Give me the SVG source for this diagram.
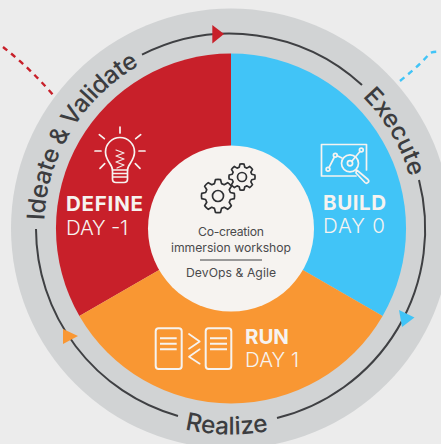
<svg xmlns="http://www.w3.org/2000/svg" xmlns:xlink="http://www.w3.org/1999/xlink" width="441" height="444" viewBox="0 0 441 444">
<style>
text{font-family:"Inter","Liberation Sans",sans-serif}
.ring{font-size:24.5px;fill:#3c3d40;font-weight:500}
.arc{fill:none;stroke:#3f4043;stroke-width:2}
.dash{fill:none;stroke-width:2.4;stroke-dasharray:5.5 5}
.ic{fill:none;stroke:#f6f3f0;stroke-width:1.7;stroke-linecap:round;stroke-linejoin:round}
.h{font-size:20.5px;font-weight:700;fill:#f6f3f0}
.d{font-size:20.5px;font-weight:300;fill:#f6f3f0}
.c{font-size:12.2px;fill:#4a4a4c;text-anchor:middle}
.g{fill:none;stroke:#2f3033;stroke-width:1.7;stroke-linejoin:round;vector-effect:non-scaling-stroke}
</style>
<defs>
<path id="gear" class="g" d="M75-21.5 98.8-15.6Q102 0 98.8 15.6L75 21.5 68.2 37.8 80.9 58.8Q72 72 58.8 80.9L37.8 68.2 21.5 75 15.6 98.8Q0 102-15.6 98.8L-21.5 75-37.8 68.2-58.8 80.9Q-72 72-80.9 58.8L-68.2 37.8-75 21.5-98.8 15.6Q-102 0-98.8-15.6L-75-21.5-68.2-37.8-80.9-58.8Q-72-72-58.8-80.9L-37.8-68.2-21.5-75-15.6-98.8Q0-102 15.6-98.8L21.5-75 37.8-68.2 58.8-80.9Q72-72 80.9-58.8L68.2-37.8Z"/>
<path id="pIdeate" d="M44 228.5A187 187 0 0 1 231 41.5"/>
<path id="pExec" d="M231 42.5A186 186 0 0 1 417 228.5"/>
<path id="pReal" d="M25 228.5A206 206 0 0 0 437 228.5"/>
</defs>
<rect width="441" height="444" fill="#ececec"/>
<g id="connectors">
<path class="dash" stroke="#c8202a" d="M3 47Q30 68 54 96"/>
<path class="dash" stroke="#41c4f7" d="M400 81Q420 65 430 53Q435 51 441 52"/>
</g>
<g id="ring">
<circle cx="231" cy="228.5" r="220" fill="#d1d3d4"/>
<path class="arc" d="M142 54.7A195 195 0 0 1 362 85"/>
<path class="arc" d="M419 180A195 195 0 0 1 277 418"/>
<path class="arc" d="M178 416A195 195 0 0 1 36 229"/>
<polygon fill="#c8202a" points="212.3,25 212.3,43.5 224,34"/>
<polygon fill="#41c4f7" points="399,310 414.5,317.5 402,327"/>
<polygon fill="#f99733" points="63,329 78,336 63,344"/>
<text class="ring"><textPath href="#pIdeate" startOffset="8" textLength="190">Ideate &amp; Validate</textPath></text>
<text class="ring"><textPath href="#pExec" startOffset="146">Execute</textPath></text>
<text class="ring"><textPath href="#pReal" startOffset="319" text-anchor="middle">Realize</textPath></text>
</g>
<g id="define">
<path fill="#c8202a" d="M231 228.5V53.5A175 175 0 0 0 79.4 316Z"/>
<g class="ic">
<path d="M120 127V133M99.3 134.7 104.3 138.7M140.7 134.7 135.7 138.7M95 151H101M139 151H145M100 168.3 104.7 163.7M140 168.3 135.3 163.7"/>
<path d="M112.5 170C112.5 164 105.5 161 105.5 152A14.5 14.5 0 0 1 134.5 152C134.5 161 127.5 164 127.5 170Z"/>
<path d="M112.5 170V179Q112.5 182.5 116 182.5H124Q127.5 182.5 127.5 179V170M112.5 173.5H127.5M112.5 177H127.5"/>
<path stroke-width="1.2" d="M116 150 124 153 116 156 124 159 116 162 124 165 117 168"/>
</g>
<text class="h" x="66" y="211" textLength="77">DEFINE</text>
<text class="d" x="66" y="235" textLength="62">DAY -1</text>
</g>
<g id="build">
<path fill="#41c4f7" d="M231 228.5V53.5A175 175 0 0 1 382.6 316Z"/>
<g class="ic">
<path d="M356 176H321.5V144.5H366.5V170"/>
<circle cx="350" cy="163.3" r="8.5"/>
<circle cx="350" cy="163.3" r="2.6"/>
<circle cx="328" cy="169.3" r="1.9"/>
<circle cx="335.3" cy="155.3" r="1.9"/>
<circle cx="361.3" cy="150" r="1.9"/>
<path d="M329 167.6 334.4 157M337.2 155.7 342 158M351.8 161.3 360 151.5"/>
<path d="M356.5 170 358.5 171.5 368 179.5A2 2 0 0 1 365 182.5L356 173Z"/>
</g>
<text class="h" x="323" y="210" textLength="63">BUILD</text>
<text class="d" x="323" y="233" textLength="62">DAY 0</text>
</g>
<g id="run">
<path fill="#f99733" d="M231 228.5 382.6 316A175 175 0 0 1 79.4 316Z"/>
<g class="ic" stroke-width="2">
<rect x="155.7" y="328.3" width="26" height="40.7" rx="3" style="stroke-width:2"/>
<rect x="205.7" y="328.3" width="25.6" height="40.7" rx="3" style="stroke-width:2"/>
<path stroke-linecap="butt" style="stroke-width:2" d="M160 338.3H176.7M160 343.8H176.7M160 349.3H176.7M210 338.3H227M210 343.8H227M210 349.3H227"/>
<path d="M189 334 199.7 341.5 189 348.7M199.7 349.3 189 356.7 199.7 363.7"/>
</g>
<text class="h" x="245" y="344" textLength="44">RUN</text>
<text class="d" x="245" y="367" textLength="54">DAY 1</text>
</g>
<g id="center">
<circle cx="231" cy="228.5" r="83" fill="#f6f3f0"/>
<use href="#gear" transform="translate(218 196) scale(.165)"/>
<use href="#gear" transform="translate(242 177) scale(.13)"/>
<circle class="g" cx="218" cy="196" r="5.5"/>
<circle class="g" cx="242" cy="177" r="4.5"/>
<text class="c" x="231" y="236" textLength="66">Co-creation</text>
<text class="c" x="231" y="252" textLength="120">immersion workshop</text>
<path d="M200 260H262" stroke="#3f4043" stroke-width="1"/>
<text class="c" x="231" y="277" textLength="90">DevOps &amp; Agile</text>
</g>
</svg>
